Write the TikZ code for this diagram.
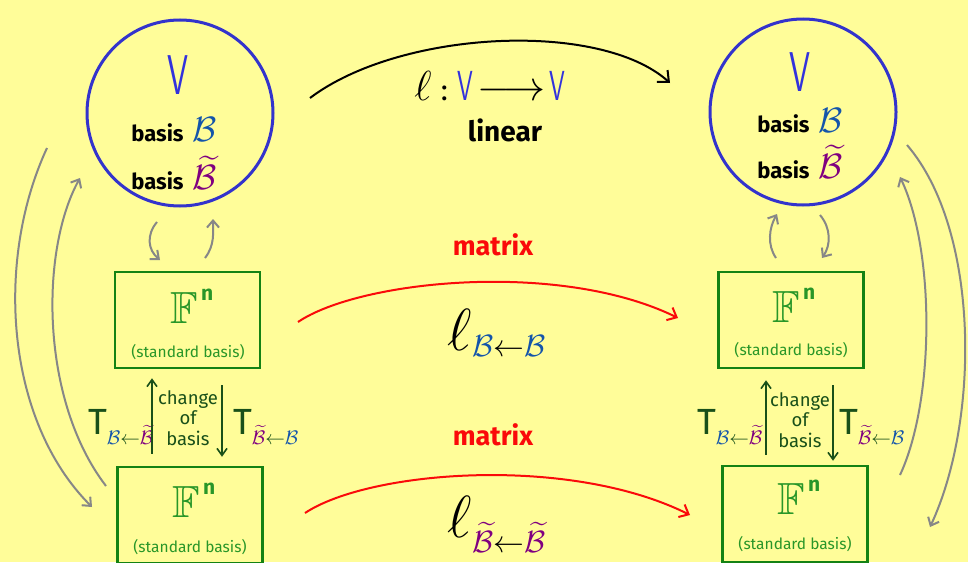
\RequirePackage{fix-cm}
\documentclass[tikz,border=0pt]{standalone}
\usepackage{amssymb}
\usepackage{fontspec}
\setmainfont{Fira Sans}
\usetikzlibrary{arrows.meta}
\definecolor{bg}{RGB}{255,253,153}
\definecolor{circ}{RGB}{51,51,204}
\definecolor{boxg}{RGB}{20,130,20}
\definecolor{fng}{RGB}{40,150,40}
\definecolor{dgreen}{RGB}{25,80,25}
\definecolor{bblue}{RGB}{20,85,170}
\definecolor{bpurp}{RGB}{128,0,128}
\definecolor{vblue}{RGB}{50,50,220}
\definecolor{redc}{RGB}{250,10,10}
\definecolor{grayc}{RGB}{135,135,135}
\newcommand{\Bb}{\textcolor{bblue}{\mathcal{B}}}
\newcommand{\Bt}{\textcolor{bpurp}{\widetilde{\mathcal{B}}}}
\newcommand{\FFn}{\scalebox{1.5}{$\mathbb{F}$}^{\,\mathbf{n}}}
\newcommand{\VV}{\textcolor{vblue}{\scalebox{0.6}[1]{\sffamily V}}}
\begin{document}
\begin{tikzpicture}[x=1pt,y=-1pt,
  vsp/.style={circle,draw=circ,line width=3pt,minimum size=186pt,inner sep=0pt},
  fnbox/.style={draw=boxg,line width=2.5pt,minimum width=145pt,minimum height=96pt,inner sep=0pt},
  txt/.style={inner sep=0pt,font=\fontsize{22}{26}\selectfont\bfseries},
  bigV/.style={inner sep=0pt,text=vblue,font=\fontsize{56}{56}\selectfont},
  fn/.style={inner sep=0pt,text=fng,font=\fontsize{30}{30}\selectfont},
  std/.style={inner sep=0pt,text=fng,font=\fontsize{15.5}{18}\selectfont},
  cob/.style={inner sep=0pt,text=dgreen,align=center,font=\fontsize{18.5}{20.5}\selectfont},
  tlab/.style={inner sep=0pt,text=dgreen,font=\fontsize{28}{28}\selectfont},
  red/.style={inner sep=0pt,text=redc,font=\fontsize{27}{30}\selectfont\bfseries},
  garr/.style={draw=grayc,line width=2pt,-{Straight Barb[length=7pt,width=12pt]}},
  carr/.style={draw=dgreen,line width=1.6pt,-{Straight Barb[length=7pt,width=10pt]}},
  rarr/.style={draw=redc,line width=2pt,-{Straight Barb[length=8pt,width=14pt]}},
  karr/.style={draw=black,line width=2pt,-{Straight Barb[length=9pt,width=16pt]}}]
\fill[bg] (0,0) rectangle (968,562);
\useasboundingbox (0,0) rectangle (968,562);

% circles
\node[vsp] (c1) at (180,113) {};
\node[vsp] (c2) at (803,112) {};
\node[bigV] (v1) at (178,75) {\VV};
\node[bigV] (v2) at (800,72) {\VV};
\node[txt] (b1a) at (174,130) {basis\, \scalebox{1.6}{$\Bb$}};
\node[txt] (b1b) at (174,173) {basis\, \scalebox{1.6}{$\Bt$}};
\node[txt] (b2a) at (800,121) {basis\, \scalebox{1.6}{$\Bb$}};
\node[txt] (b2b) at (800,162) {basis\, \scalebox{1.6}{$\Bt$}};

% top map
\node[inner sep=0pt,font=\fontsize{42}{42}\selectfont] (lmap) at (490,86) {$\ell\mathbin{\scalebox{0.7}{:}}\VV\!\longrightarrow\!\VV$};
\node[txt,font=\fontsize{28}{30}\selectfont\bfseries] (lin) at (505,130) {linear};
\coordinate (ks) at (310,98);
\coordinate (ke) at (670,83);
\draw[karr] (ks) .. controls (400,30) and (600,20) .. (ke);

% boxes
\node[fnbox] (f1) at (187.5,320) {};
\node[fnbox] (f2) at (791,320) {};
\node[fnbox] (f3) at (190,515) {};
\node[fnbox] (f4) at (795,514) {};
\node[fn] (fn1) at (192,306) {$\FFn$};
\node[std] (s1) at (188,352) {(standard basis)};
\node[fn] (fn2) at (794,305) {$\FFn$};
\node[std] (s2) at (791,350) {(standard basis)};
\node[fn] (fn3) at (194,500) {$\FFn$};
\node[std] (s3) at (190,547) {(standard basis)};
\node[fn] (fn4) at (799,497) {$\FFn$};
\node[std] (s4) at (795,544) {(standard basis)};

% red matrices
\node[red] (m1) at (493,245) {matrix};
\node[red] (m2) at (493,435) {matrix};
\node[inner sep=0pt,font=\fontsize{44}{44}\selectfont] (l1) at (497,333) {$\scalebox{1.35}{$\ell$}_{\Bb\leftarrow\Bb}$};
\node[inner sep=0pt,font=\fontsize{44}{44}\selectfont] (l2) at (497,524) {$\scalebox{1.35}{$\ell$}_{\Bt\leftarrow\Bt}$};
\coordinate (r1s) at (298,322);
\coordinate (r1e) at (678,318);
\coordinate (r2s) at (305,513);
\coordinate (r2e) at (690,515);
\draw[rarr] (r1s) .. controls (360,280) and (560,260) .. (r1e);
\draw[rarr] (r2s) .. controls (370,470) and (570,455) .. (r2e);

% change of basis
\node[cob] (cb1) at (188,418) {change\\of\\basis};
\node[cob] (cb2) at (800,420) {change\\of\\basis};
\node[tlab] (t1) at (121,427) {$\scalebox{1.3}{$\mathrm{T}$}_{\Bb\leftarrow\Bt}$};
\node[tlab] (t2) at (266,427) {$\scalebox{1.3}{$\mathrm{T}$}_{\Bt\leftarrow\Bb}$};
\node[tlab] (t3) at (730,427) {$\scalebox{1.3}{$\mathrm{T}$}_{\Bb\leftarrow\Bt}$};
\node[tlab] (t4) at (872,427) {$\scalebox{1.3}{$\mathrm{T}$}_{\Bt\leftarrow\Bb}$};
\draw[carr] ([yshift=12pt]f3.north -| 152,0) -- ([yshift=-9pt]f1.south -| 152,0);
\draw[carr] ([yshift=-16pt]f1.south -| 222,0) -- ([yshift=9pt]f3.north -| 222,0);
\draw[carr] ([yshift=10pt]f4.north -| 766,0) -- ([yshift=-11pt]f2.south -| 766,0);
\draw[carr] ([yshift=-16pt]f2.south -| 833,0) -- ([yshift=4pt]f4.north -| 833,0);

% gray small arrows
\coordinate (g1s) at (157,222); \coordinate (g1e) at (160,260);
\coordinate (g2s) at (205,258); \coordinate (g2e) at (213,219);
\coordinate (g3s) at (776,258); \coordinate (g3e) at (777,214);
\coordinate (g4s) at (820,215); \coordinate (g4e) at (822,258);
\draw[garr] (g1s) .. controls (146,235) and (148,250) .. (g1e);
\draw[garr] (g2s) .. controls (215,245) and (213,232) .. (g2e);
\draw[garr] (g3s) .. controls (767,245) and (769,228) .. (g3e);
\draw[garr] (g4s) .. controls (831,228) and (831,245) .. (g4e);

% gray big arrows
\coordinate (L1s) at (47,148); \coordinate (L1e) at (92,507);
\coordinate (L2s) at (106,486); \coordinate (L2e) at (80,178);
\coordinate (R1s) at (907,145); \coordinate (R1e) at (930,527);
\coordinate (R2s) at (900,475); \coordinate (R2e) at (900,177);
\draw[garr] (L1s) .. controls (-5,260) and (5,420) .. (L1e);
\draw[garr] (L2s) .. controls (40,400) and (40,250) .. (L2e);
\draw[garr] (R1s) .. controls (980,230) and (980,420) .. (R1e);
\draw[garr] (R2s) .. controls (935,400) and (935,250) .. (R2e);
\end{tikzpicture}
\end{document}
